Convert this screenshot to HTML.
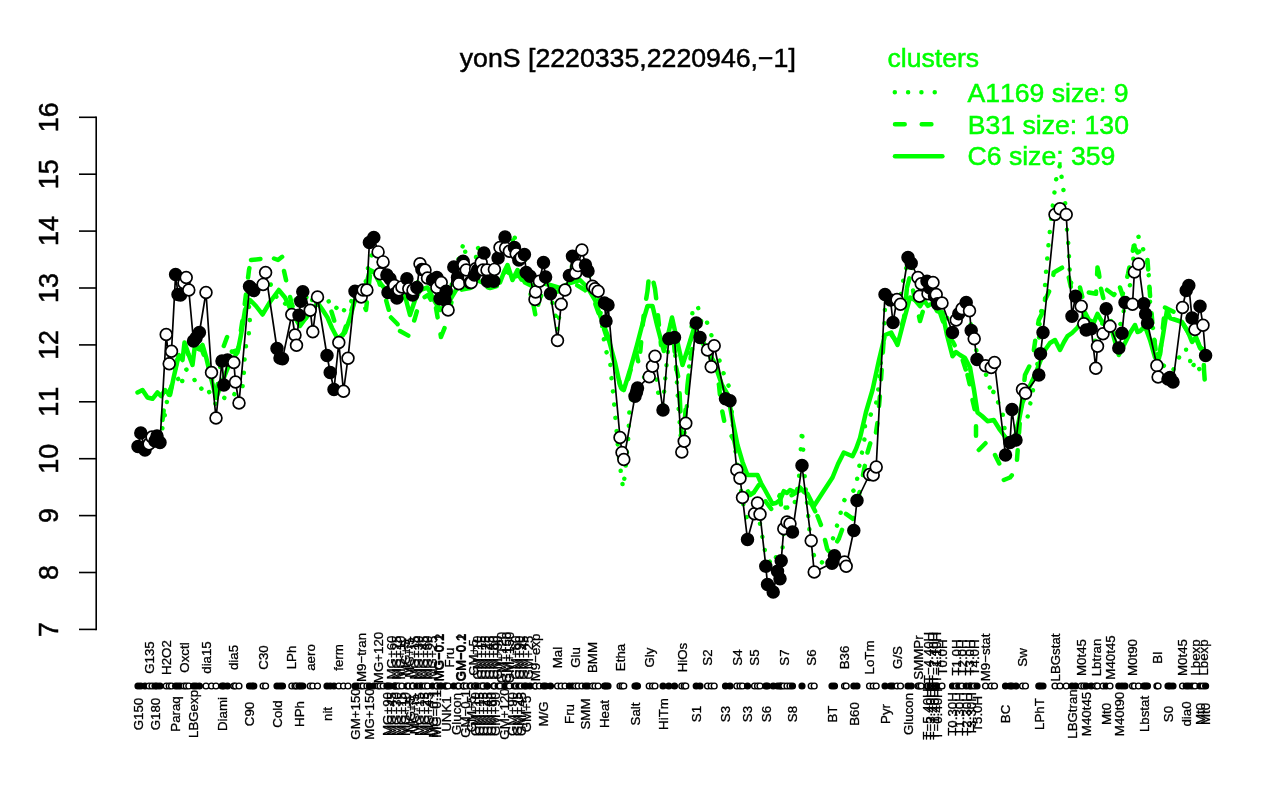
<!DOCTYPE html>
<html lang="en"><head><meta charset="utf-8"><title>yonS expression profile</title>
<style>
html,body{margin:0;padding:0;background:#fff;}
body{width:1280px;height:800px;overflow:hidden;}
svg{display:block;font-kerning:none;font-family:"Liberation Sans",Arial,Helvetica,sans-serif;}
.ax{font-size:26.9px;fill:#000;stroke:#000;stroke-width:0.5;}
.xl{font-size:13.3px;fill:#000;text-anchor:middle;stroke:#000;stroke-width:0.3;}
.lg{font-size:26.6px;fill:#00ff00;stroke:#00ff00;stroke-width:0.5;}
.gl{fill:none;stroke:#00ff00;stroke-width:4.5;stroke-linejoin:round;}
.bl{fill:none;stroke:#000;stroke-width:1.7;stroke-linejoin:round;}
.pf{fill:#000;stroke:#000;stroke-width:1.7;}
.po{fill:#fff;stroke:#000;stroke-width:1.7;}
.mf{fill:#000;stroke:#000;stroke-width:1.4;}
.mo{fill:#fff;stroke:#000;stroke-width:1.4;}
</style></head><body>
<svg width="1280" height="800" viewBox="0 0 1280 800">
<rect x="0" y="0" width="1280" height="800" fill="#fff"/>
<text class="ax" style="font-size:26.7px" x="627.8" y="67.3" text-anchor="middle">yonS [2220335,2220946,−1]</text>
<g stroke="#000" stroke-width="1.6" fill="none" stroke-linecap="butt">
<path d="M96.2 116.5 V630.2"/>
<path d="M79 117.3 H96.2"/>
<path d="M79 174.2 H96.2"/>
<path d="M79 231.1 H96.2"/>
<path d="M79 288.0 H96.2"/>
<path d="M79 344.9 H96.2"/>
<path d="M79 401.8 H96.2"/>
<path d="M79 458.7 H96.2"/>
<path d="M79 515.6 H96.2"/>
<path d="M79 572.5 H96.2"/>
<path d="M79 629.4 H96.2"/>
</g>
<text class="ax" text-anchor="middle" transform="translate(58.3,117.3) rotate(-90)">16</text>
<text class="ax" text-anchor="middle" transform="translate(58.3,174.2) rotate(-90)">15</text>
<text class="ax" text-anchor="middle" transform="translate(58.3,231.1) rotate(-90)">14</text>
<text class="ax" text-anchor="middle" transform="translate(58.3,288.0) rotate(-90)">13</text>
<text class="ax" text-anchor="middle" transform="translate(58.3,344.9) rotate(-90)">12</text>
<text class="ax" text-anchor="middle" transform="translate(58.3,401.8) rotate(-90)">11</text>
<text class="ax" text-anchor="middle" transform="translate(58.3,458.7) rotate(-90)">10</text>
<text class="ax" text-anchor="middle" transform="translate(58.3,515.6) rotate(-90)">9</text>
<text class="ax" text-anchor="middle" transform="translate(58.3,572.5) rotate(-90)">8</text>
<text class="ax" text-anchor="middle" transform="translate(58.3,629.4) rotate(-90)">7</text>
<path class="gl" stroke-linecap="round" stroke-dasharray="0.01 13.3" d="M137.5 448.0 L141.0 440.0 L145.0 452.0 L150.0 445.0 L155.0 442.0 L160.0 440.0 L164.0 420.0 L168.0 395.0 L172.0 385.0 L176.0 380.0 L180.0 378.0 L181.0 385.0 L186.0 369.0 L190.0 375.0 L194.0 379.0 L200.0 390.0 L205.0 385.0 L211.0 395.0 L216.0 405.0 L222.5 402.5 L225.0 396.0 L230.0 392.0 L236.0 395.0 L240.0 392.0 L242.5 387.5 L243.8 373.8 L244.5 360.0 L246.0 346.0 L248.8 333.8 L250.0 322.5 L248.8 307.5 L252.0 295.0 L258.0 288.0 L264.0 280.0 L270.0 283.0 L278.0 300.0 L284.0 305.0 L290.0 298.0 L297.0 300.0 L303.0 295.0 L310.0 300.0 L318.0 296.0 L326.0 297.0 L331.0 305.0 L335.0 310.0 L339.0 304.0 L341.0 309.0 L346.0 311.0 L352.0 300.0 L358.0 295.0 L364.0 292.0 L368.0 268.0 L372.0 254.0 L376.0 255.0 L380.0 265.0 L386.0 278.0 L392.0 288.0 L398.0 290.0 L404.0 285.0 L410.0 292.0 L416.0 290.0 L420.0 270.0 L426.0 272.0 L432.0 280.0 L438.0 285.0 L444.0 295.0 L448.0 305.0 L454.0 272.0 L460.0 255.0 L463.8 242.5 L468.0 270.0 L474.0 272.0 L477.5 246.0 L482.0 262.0 L488.0 272.0 L494.0 272.0 L500.0 250.0 L505.0 240.0 L510.0 260.0 L513.8 232.5 L518.0 255.0 L524.0 258.0 L530.0 275.0 L535.0 295.0 L540.0 282.0 L545.0 272.0 L550.0 292.0 L554.0 310.0 L556.0 317.0 L557.5 330.0 L560.0 310.0 L565.0 292.0 L570.0 272.0 L574.0 260.0 L578.0 266.0 L582.0 252.0 L587.0 268.0 L593.0 287.0 L598.0 292.0 L603.8 338.8 L606.0 351.0 L610.0 360.0 L611.0 373.8 L612.5 387.5 L613.8 400.0 L615.0 413.8 L616.5 430.0 L618.0 448.0 L620.0 466.0 L622.0 480.0 L623.0 488.0 L625.0 474.0 L627.0 452.0 L628.8 432.5 L628.8 418.8 L630.0 405.0 L633.0 392.0 L636.0 385.0 L642.0 380.0 L648.0 372.0 L652.0 365.0 L655.0 360.0 L657.5 390.0 L660.0 400.0 L663.0 405.0 L666.0 370.0 L669.0 340.0 L674.0 335.0 L678.0 400.0 L681.0 440.0 L684.0 438.0 L686.0 420.0 L689.0 370.0 L692.5 311.0 L697.5 305.0 L702.0 325.0 L706.0 320.0 L710.0 330.0 L714.0 345.0 L718.0 355.0 L721.0 366.0 L726.0 380.0 L730.0 388.8 L734.0 440.0 L738.0 470.0 L741.0 490.0 L743.8 507.5 L747.5 520.0 L752.0 515.0 L757.0 505.0 L761.0 530.0 L763.8 543.8 L766.0 557.5 L770.0 562.0 L774.0 565.0 L777.5 551.0 L782.5 548.8 L786.0 501.0 L787.5 508.8 L793.8 507.5 L798.8 481.0 L802.0 429.5 L805.0 481.0 L808.8 522.5 L811.0 548.8 L816.0 560.0 L821.0 563.8 L827.0 555.0 L832.5 540.0 L836.0 528.8 L840.0 515.8 L843.0 502.5 L847.5 495.0 L856.0 488.8 L857.5 476.0 L860.0 462.5 L862.5 450.0 L865.0 436.0 L865.0 424.0 L875.0 407.5 L877.5 397.5 L880.0 370.0 L884.0 335.0 L885.0 307.5 L890.0 300.0 L895.0 310.0 L900.0 300.0 L905.0 270.0 L910.0 262.0 L915.0 275.0 L920.0 285.0 L925.0 283.0 L930.0 290.0 L936.0 295.0 L942.0 305.0 L948.0 320.0 L954.0 325.0 L960.0 312.0 L966.0 305.0 L971.0 325.0 L975.0 345.0 L980.0 365.0 L985.0 372.0 L989.0 382.5 L991.0 396.0 L994.0 391.0 L997.5 401.0 L1002.5 412.5 L1006.0 440.0 L1010.0 445.0 L1014.0 435.0 L1018.0 425.0 L1024.0 420.0 L1027.5 417.5 L1030.0 405.0 L1034.0 385.0 L1038.0 360.0 L1040.0 315.0 L1045.0 300.0 L1045.0 286.0 L1046.0 272.5 L1048.0 250.0 L1050.0 230.0 L1052.0 212.0 L1054.0 196.0 L1056.0 180.0 L1060.0 165.0 L1062.5 183.8 L1064.5 197.0 L1066.0 210.0 L1067.0 230.0 L1069.0 251.0 L1069.0 264.0 L1072.0 290.0 L1076.0 292.0 L1081.0 300.0 L1086.0 318.0 L1091.0 320.0 L1096.0 345.0 L1100.0 335.0 L1105.0 310.0 L1110.0 318.0 L1116.0 335.0 L1122.0 320.0 L1126.0 300.0 L1130.0 285.0 L1133.0 262.0 L1135.0 240.0 L1138.0 235.0 L1141.0 245.0 L1144.0 251.0 L1147.5 265.0 L1149.0 277.5 L1150.0 300.0 L1151.0 322.5 L1154.0 331.0 L1155.0 344.0 L1159.0 357.5 L1163.0 365.0 L1167.5 369.0 L1172.0 372.0 L1178.0 362.0 L1181.0 349.5 L1188.0 349.8 L1190.6 363.0 L1192.0 369.4 L1195.0 361.0 L1200.0 370.4 L1205.0 373.0"/>
<path class="gl" stroke-linecap="round" stroke-dasharray="9.5 17.2" d="M137.5 448.0 L143.0 452.0 L150.0 454.0 L157.0 445.0 L162.5 420.0 M162.5 420.0 L165.0 400.0 L170.0 393.0 L178.0 356.0 L184.0 345.0 L190.0 358.0 L196.0 348.0 L202.0 350.0 L210.0 372.0 L216.0 395.0 L221.0 362.0 L223.8 346.0 M223.8 346.0 L227.5 336.0 L232.0 352.0 L238.0 350.0 L244.0 310.0 L249.0 270.0 L251.0 260.0 M251.0 260.0 L264.0 258.5 L270.0 262.0 L274.0 258.5 M274.0 258.5 L278.0 260.0 L282.5 256.5 L284.0 271.0 M284.0 271.0 L286.5 282.0 L292.0 305.0 L300.0 322.0 L306.0 318.0 L312.0 300.0 L318.0 298.0 L325.0 300.0 L331.0 310.0 L334.0 320.0 L337.0 330.0 L343.0 335.0 L348.0 320.0 L355.0 300.0 L362.0 300.0 L366.0 310.0 L370.0 275.0 L375.0 268.0 L380.0 285.0 L386.0 300.0 L391.0 317.5 M391.0 317.5 L397.5 324.0 L400.0 331.0 M400.0 331.0 L409.0 336.0 L415.0 318.0 L420.0 300.0 L428.0 295.0 L436.0 308.0 M436.0 308.0 L441.0 337.0 M441.0 337.0 L445.0 327.0 L452.0 300.0 L460.0 290.0 L470.0 288.0 L480.0 285.0 L490.0 288.0 L500.0 285.0 L507.0 268.0 L512.0 282.0 L518.0 274.0 L525.0 285.0 L530.0 292.0 L533.5 305.0 M533.5 305.0 L536.0 318.0 L539.0 300.0 L545.0 288.0 L555.0 292.0 L565.0 290.0 L575.0 284.0 L585.0 290.0 L595.0 303.0 L601.0 320.0 L607.0 338.0 L615.0 365.0 L621.0 388.0 L625.0 392.0 L630.0 372.0 L636.0 352.0 M636.0 352.0 L639.0 365.0 L644.0 312.0 L647.5 291.0 M647.5 291.0 L648.8 278.0 L651.0 274.0 L653.0 280.0 L655.0 288.8 M655.0 288.8 L656.5 301.0 L661.0 345.0 L668.0 335.0 L672.0 320.0 L676.0 367.0 M676.0 367.0 L679.0 380.0 L680.0 402.0 M680.0 402.0 L681.5 437.0 L684.0 430.0 L687.5 385.0 M687.5 385.0 L691.0 355.0 L695.0 335.0 L700.0 338.0 L707.0 352.0 L714.0 365.0 L719.0 385.0 M719.0 385.0 L721.0 405.0 L725.0 425.0 L727.5 429.0 L731.0 435.0 L734.0 440.0 M734.0 440.0 L737.5 455.0 L741.0 470.0 L746.0 488.0 L750.0 495.0 L753.8 492.5 M753.8 492.5 L758.8 485.0 L762.0 495.0 L766.0 502.0 L772.0 510.0 L777.0 500.0 L780.0 495.0 M780.0 495.0 L781.0 506.0 L786.0 498.0 L792.0 495.0 L800.0 490.0 L806.0 497.0 L812.0 505.0 L817.5 516.0 M817.5 516.0 L821.0 525.0 L825.0 540.0 M825.0 540.0 L828.0 552.0 L833.0 548.0 L838.8 538.8 M838.8 538.8 L842.0 530.0 L846.0 513.8 M846.0 513.8 L853.0 518.8 L857.0 505.0 L862.0 480.0 L867.5 452.5 M867.5 452.5 L870.5 442.5 L876.0 432.5 M876.0 432.5 L877.5 422.5 L880.0 395.0 L884.0 335.0 L890.0 333.0 L897.0 342.0 L904.0 318.0 L907.0 287.5 M907.0 287.5 L910.0 276.0 L913.0 290.0 L915.0 300.0 L918.0 312.0 L920.0 321.0 M920.0 321.0 L923.0 311.0 L927.0 308.0 L933.0 305.0 L940.0 312.5 M940.0 312.5 L942.5 320.0 L948.0 335.0 L953.0 342.0 L957.0 350.0 L962.0 358.0 L967.5 375.0 M967.5 375.0 L971.0 390.0 L972.5 400.0 M972.5 400.0 L976.0 415.0 L976.0 440.0 L978.8 450.0 M978.8 450.0 L986.2 442.5 L990.0 448.0 L995.0 455.0 M995.0 455.0 L1000.0 465.0 L1003.8 480.0 M1003.8 480.0 L1010.0 477.5 L1016.2 470.0 L1020.0 420.0 L1025.0 375.0 M1025.0 375.0 L1032.5 360.0 L1036.0 335.0 L1038.8 320.0 M1038.8 320.0 L1042.5 312.5 L1045.0 300.0 M1045.0 300.0 L1051.0 287.5 L1053.8 272.5 M1053.8 272.5 L1065.0 266.0 L1068.8 277.5 M1068.8 277.5 L1071.0 287.5 L1075.0 290.0 L1080.0 287.5 M1080.0 287.5 L1082.5 297.5 L1088.8 292.5 M1088.8 292.5 L1096.0 293.8 L1097.5 267.5 M1097.5 267.5 L1098.8 272.5 L1101.0 288.8 M1101.0 288.8 L1103.8 300.0 L1107.0 290.0 M1107.0 290.0 L1113.8 295.0 L1120.0 287.5 M1120.0 287.5 L1122.5 295.0 L1128.0 274.0 L1133.8 246.0 M1133.8 246.0 L1137.5 252.5 L1142.0 250.0 L1147.5 260.0 M1147.5 260.0 L1150.0 295.0 L1153.0 330.0 L1157.0 360.0 L1160.0 355.0 L1165.0 307.5 M1165.0 307.5 L1175.0 312.5 L1182.0 322.0 L1188.0 332.0 L1192.0 342.0 L1196.0 338.0 L1200.0 348.0 L1203.5 352.0 L1204.0 370.0 M1204.0 370.0 L1205.0 384.0"/>
<path class="gl" stroke-linecap="round" d="M137.5 392.5 L142.5 390.0 L147.5 397.5 L152.5 398.8 L157.5 392.5 L161.2 396.2 L165.0 390.0 L170.0 395.0 L174.0 376.0 L178.8 355.0 L182.5 360.0 L184.5 342.5 L188.8 355.0 L192.5 365.0 L195.0 345.0 L199.0 349.0 L202.5 345.0 L206.2 357.5 L211.0 378.0 L216.2 398.0 L221.0 385.0 L225.0 375.0 L230.0 362.5 L237.5 352.5 L241.0 335.0 L245.0 310.0 L250.0 300.0 L256.0 306.0 L262.5 314.5 L270.0 302.0 L278.8 290.0 L285.0 297.5 L290.0 308.0 L295.0 317.5 L300.0 326.0 L306.2 317.5 L312.0 311.0 L317.5 302.5 L322.0 309.0 L327.5 317.5 L332.0 328.0 L337.5 338.5 L341.0 336.0 L345.0 332.5 L350.0 318.0 L355.0 300.0 L362.0 296.0 L366.0 285.0 L370.0 270.0 L374.0 272.0 L378.0 280.0 L382.5 286.0 L388.0 292.0 L394.0 296.0 L400.0 300.0 L405.0 296.0 L410.0 315.0 L415.0 300.0 L420.0 290.0 L427.5 287.5 L434.0 300.0 L440.0 310.0 L445.0 306.0 L450.0 300.0 L456.0 290.0 L462.5 282.5 L470.0 286.0 L476.0 280.0 L482.5 282.5 L490.0 284.0 L500.0 282.5 L504.0 272.0 L507.5 265.0 L512.5 280.0 L517.5 270.0 L525.0 282.5 L532.0 286.0 L540.0 282.5 L550.0 285.0 L560.0 288.0 L570.0 283.0 L580.0 280.0 L588.0 288.0 L595.0 300.0 L601.0 318.0 L607.5 335.0 L615.0 362.5 L620.0 385.0 L623.8 390.0 L630.0 370.0 L637.0 345.0 L644.0 318.0 L647.5 306.0 L652.5 306.0 L657.0 325.0 L663.8 351.0 L668.0 335.0 L672.0 317.5 L677.0 340.0 L682.5 365.0 L688.0 348.0 L693.8 328.8 L700.0 335.0 L707.0 350.0 L714.0 362.0 L722.0 385.0 L728.0 395.0 L732.5 420.0 L737.5 445.0 L742.5 462.0 L747.5 475.0 L757.5 475.0 L761.0 483.0 L765.0 490.0 L772.5 503.8 L776.0 503.0 L780.0 500.0 L783.8 491.2 L787.0 493.0 L790.0 490.0 L795.0 492.5 L800.0 487.5 L804.0 492.0 L807.5 493.8 L813.8 506.2 L823.0 492.0 L832.5 477.5 L838.0 464.0 L843.8 452.5 L852.5 456.2 L856.0 449.0 L860.0 438.0 L866.0 412.0 L872.5 390.0 L879.0 360.0 L885.0 335.0 L891.2 332.5 L897.5 345.0 L904.0 320.0 L910.0 297.5 L915.0 300.0 L920.0 306.2 L923.8 300.0 L928.0 306.0 L932.5 303.0 L937.0 311.0 L942.5 312.5 L947.0 335.0 L952.5 356.2 L956.0 352.0 L960.0 355.0 L965.0 358.0 L970.0 367.5 L974.0 390.0 L977.5 412.5 L982.0 416.0 L987.5 421.2 L993.8 420.0 L1000.0 430.0 L1007.5 440.0 L1012.0 442.0 L1015.0 437.5 L1019.0 420.0 L1022.5 402.5 L1028.0 390.0 L1035.0 375.0 L1040.0 362.0 L1045.0 350.0 L1050.0 343.0 L1055.0 340.0 L1060.0 350.0 L1064.0 342.0 L1067.5 336.2 L1072.0 333.0 L1077.5 327.5 L1081.0 322.0 L1085.0 312.5 L1089.0 320.0 L1093.8 322.5 L1097.5 313.8 L1101.0 320.0 L1105.0 325.0 L1110.0 322.5 L1114.0 338.0 L1118.8 355.0 L1124.0 345.0 L1130.0 333.0 L1135.0 325.0 L1137.5 332.0 L1140.0 331.2 L1145.0 326.2 L1150.0 340.0 L1155.0 357.5 L1159.0 358.0 L1163.0 335.0 L1167.0 310.0 L1170.0 318.0 L1176.0 320.0 L1182.0 322.0 L1188.0 332.0 L1192.0 342.0 L1196.0 337.0 L1200.0 347.0 L1205.0 351.0"/>
<path class="bl" d="M138.0 446.5 L140.8 433.0 L145.0 450.0 L149.0 444.0 L152.0 437.0 L155.0 441.0 L157.0 436.0 L160.0 442.5 L166.2 334.5 L169.2 363.8 L171.5 351.2 L175.6 274.4 L178.0 294.5 L180.5 295.0 L184.0 283.0 L186.2 277.5 L188.8 290.0 L193.5 341.0 L196.0 338.0 L199.4 332.5 L206.0 292.5 L211.5 372.5 L216.0 418.0 L222.0 361.0 L223.8 385.0 L227.5 360.0 L233.8 362.5 L235.5 382.0 L239.0 403.0 L249.5 286.5 L252.0 289.0 L253.8 290.6 L263.1 284.4 L265.6 272.5 L277.0 348.5 L280.0 358.0 L282.5 358.8 L291.8 314.5 L295.0 335.0 L296.5 345.2 L299.0 315.2 L300.8 301.2 L302.8 291.8 L310.2 310.2 L312.8 331.8 L317.5 297.0 L327.0 355.5 L330.2 372.5 L334.0 389.5 L338.8 342.5 L343.5 391.2 L348.0 358.2 L355.0 291.2 L357.5 292.5 L361.2 296.9 L363.1 290.0 L366.9 290.0 L369.4 242.5 L373.8 237.5 L378.1 251.9 L380.0 273.8 L383.1 261.9 L386.9 275.0 L388.0 292.5 L390.0 278.8 L394.4 285.6 L395.0 293.8 L396.9 298.0 L398.8 290.0 L401.9 286.9 L406.9 278.8 L408.8 288.8 L412.5 295.0 L413.0 290.0 L416.9 287.5 L420.0 263.8 L421.9 269.4 L425.0 270.0 L427.5 278.0 L432.5 280.0 L436.9 277.5 L436.9 287.5 L441.2 282.5 L440.0 298.8 L445.0 300.0 L446.2 291.2 L448.1 310.0 L453.8 266.9 L457.5 277.5 L458.8 283.8 L463.1 261.2 L463.8 265.0 L466.2 270.0 L470.0 282.5 L471.2 282.5 L474.4 275.0 L475.6 268.8 L477.5 270.0 L481.2 262.5 L484.0 253.1 L483.0 270.0 L487.0 270.0 L487.5 281.2 L493.8 281.2 L494.4 269.4 L498.1 258.1 L500.0 247.5 L505.6 248.0 L505.0 236.9 L509.4 251.2 L514.4 247.5 L516.2 253.8 L518.8 260.0 L521.2 257.5 L524.4 254.4 L526.2 272.5 L530.0 276.2 L535.0 299.4 L535.6 291.9 L539.4 281.2 L543.5 262.5 L545.6 276.9 L550.5 293.8 L557.5 340.5 L561.2 304.2 L565.0 290.0 L569.4 275.6 L572.5 256.2 L575.6 273.0 L578.1 265.6 L581.9 250.0 L585.5 265.0 L588.0 271.0 L592.5 286.2 L595.0 288.8 L598.1 291.2 L604.5 303.0 L606.0 321.0 L608.0 305.0 L620.0 437.5 L622.0 452.5 L623.8 459.5 L635.0 396.2 L636.5 392.0 L637.5 388.0 L649.2 376.8 L652.5 366.2 L655.0 356.2 L663.0 410.0 L668.8 338.8 L674.5 337.5 L681.8 452.0 L684.2 441.2 L685.8 423.2 L696.2 323.0 L700.0 337.5 L707.5 350.0 L711.2 366.8 L714.2 345.8 L725.5 398.8 L730.0 400.8 L736.8 470.0 L740.0 478.2 L742.5 497.5 L747.5 539.5 L754.5 513.8 L757.5 503.0 L760.0 514.2 L765.8 566.2 L767.5 584.5 L773.2 592.0 L777.5 571.2 L780.0 578.8 L781.2 560.8 L783.8 528.8 L787.0 522.0 L790.0 523.8 L792.5 532.0 L802.0 465.5 L811.2 540.8 L814.2 572.0 L832.0 563.2 L834.5 555.8 L844.5 562.0 L846.2 566.2 L853.8 530.5 L857.0 500.5 L869.5 474.5 L873.2 475.0 L876.2 467.0 L885.0 294.5 L890.5 300.0 L893.0 322.5 L897.0 299.5 L900.5 304.2 L908.0 257.5 L911.2 263.2 L918.0 277.5 L919.5 296.2 L921.2 283.8 L927.0 281.2 L928.0 293.8 L930.0 288.0 L933.0 282.5 L934.5 296.0 L936.2 294.5 L937.5 303.8 L942.0 303.0 L952.5 332.5 L956.2 320.0 L958.8 313.8 L962.0 308.8 L966.2 302.5 L969.5 310.8 L971.2 330.5 L974.2 338.8 L977.0 359.5 L985.5 365.8 L991.2 367.5 L994.5 362.5 L1005.5 455.0 L1010.0 442.5 L1012.0 409.5 L1016.0 440.0 L1022.5 389.5 L1025.5 393.2 L1038.8 375.0 L1040.5 353.8 L1043.0 332.5 L1055.0 214.5 L1060.0 208.8 L1066.2 214.5 L1072.0 316.2 L1075.5 296.2 L1081.2 306.2 L1083.8 323.8 L1086.2 330.0 L1091.2 328.8 L1095.8 368.2 L1097.5 346.2 L1103.0 333.8 L1106.2 308.8 L1110.0 326.2 L1118.8 348.0 L1122.0 333.2 L1125.0 302.5 L1132.5 304.2 L1134.4 272.0 L1138.5 264.0 L1143.8 303.8 L1145.6 314.0 L1147.5 323.0 L1156.9 365.6 L1158.1 377.0 L1168.0 379.0 L1170.0 377.5 L1173.0 382.0 L1182.5 307.5 L1186.2 290.5 L1188.8 285.6 L1192.0 318.0 L1195.0 329.5 L1200.0 306.2 L1203.0 325.2 L1205.6 355.6"/>
<circle class="pf" cx="138.0" cy="446.5" r="5.9"/>
<circle class="pf" cx="140.8" cy="433.0" r="5.9"/>
<circle class="pf" cx="145.0" cy="450.0" r="5.9"/>
<circle class="po" cx="149.0" cy="444.0" r="5.9"/>
<circle class="po" cx="152.0" cy="437.0" r="5.9"/>
<circle class="pf" cx="155.0" cy="441.0" r="5.9"/>
<circle class="pf" cx="157.0" cy="436.0" r="5.9"/>
<circle class="pf" cx="160.0" cy="442.5" r="5.9"/>
<circle class="po" cx="166.2" cy="334.5" r="5.9"/>
<circle class="po" cx="169.2" cy="363.8" r="5.9"/>
<circle class="po" cx="171.5" cy="351.2" r="5.9"/>
<circle class="pf" cx="175.6" cy="274.4" r="5.9"/>
<circle class="pf" cx="178.0" cy="294.5" r="5.9"/>
<circle class="pf" cx="180.5" cy="295.0" r="5.9"/>
<circle class="po" cx="184.0" cy="283.0" r="5.9"/>
<circle class="po" cx="186.2" cy="277.5" r="5.9"/>
<circle class="po" cx="188.8" cy="290.0" r="5.9"/>
<circle class="pf" cx="193.5" cy="341.0" r="5.9"/>
<circle class="pf" cx="196.0" cy="338.0" r="5.9"/>
<circle class="pf" cx="199.4" cy="332.5" r="5.9"/>
<circle class="po" cx="206.0" cy="292.5" r="5.9"/>
<circle class="po" cx="211.5" cy="372.5" r="5.9"/>
<circle class="po" cx="216.0" cy="418.0" r="5.9"/>
<circle class="pf" cx="222.0" cy="361.0" r="5.9"/>
<circle class="pf" cx="223.8" cy="385.0" r="5.9"/>
<circle class="pf" cx="227.5" cy="360.0" r="5.9"/>
<circle class="po" cx="233.8" cy="362.5" r="5.9"/>
<circle class="po" cx="235.5" cy="382.0" r="5.9"/>
<circle class="po" cx="239.0" cy="403.0" r="5.9"/>
<circle class="pf" cx="249.5" cy="286.5" r="5.9"/>
<circle class="pf" cx="252.0" cy="289.0" r="5.9"/>
<circle class="pf" cx="253.8" cy="290.6" r="5.9"/>
<circle class="po" cx="263.1" cy="284.4" r="5.9"/>
<circle class="po" cx="265.6" cy="272.5" r="5.9"/>
<circle class="pf" cx="277.0" cy="348.5" r="5.9"/>
<circle class="pf" cx="280.0" cy="358.0" r="5.9"/>
<circle class="pf" cx="282.5" cy="358.8" r="5.9"/>
<circle class="po" cx="291.8" cy="314.5" r="5.9"/>
<circle class="po" cx="295.0" cy="335.0" r="5.9"/>
<circle class="po" cx="296.5" cy="345.2" r="5.9"/>
<circle class="pf" cx="299.0" cy="315.2" r="5.9"/>
<circle class="pf" cx="300.8" cy="301.2" r="5.9"/>
<circle class="pf" cx="302.8" cy="291.8" r="5.9"/>
<circle class="po" cx="310.2" cy="310.2" r="5.9"/>
<circle class="po" cx="312.8" cy="331.8" r="5.9"/>
<circle class="po" cx="317.5" cy="297.0" r="5.9"/>
<circle class="pf" cx="327.0" cy="355.5" r="5.9"/>
<circle class="pf" cx="330.2" cy="372.5" r="5.9"/>
<circle class="pf" cx="334.0" cy="389.5" r="5.9"/>
<circle class="po" cx="338.8" cy="342.5" r="5.9"/>
<circle class="po" cx="343.5" cy="391.2" r="5.9"/>
<circle class="po" cx="348.0" cy="358.2" r="5.9"/>
<circle class="pf" cx="355.0" cy="291.2" r="5.9"/>
<circle class="pf" cx="357.5" cy="292.5" r="5.9"/>
<circle class="po" cx="361.2" cy="296.9" r="5.9"/>
<circle class="po" cx="363.1" cy="290.0" r="5.9"/>
<circle class="po" cx="366.9" cy="290.0" r="5.9"/>
<circle class="pf" cx="369.4" cy="242.5" r="5.9"/>
<circle class="pf" cx="373.8" cy="237.5" r="5.9"/>
<circle class="po" cx="378.1" cy="251.9" r="5.9"/>
<circle class="po" cx="380.0" cy="273.8" r="5.9"/>
<circle class="po" cx="383.1" cy="261.9" r="5.9"/>
<circle class="pf" cx="386.9" cy="275.0" r="5.9"/>
<circle class="pf" cx="388.0" cy="292.5" r="5.9"/>
<circle class="pf" cx="390.0" cy="278.8" r="5.9"/>
<circle class="po" cx="394.4" cy="285.6" r="5.9"/>
<circle class="pf" cx="395.0" cy="293.8" r="5.9"/>
<circle class="pf" cx="396.9" cy="298.0" r="5.9"/>
<circle class="po" cx="398.8" cy="290.0" r="5.9"/>
<circle class="po" cx="401.9" cy="286.9" r="5.9"/>
<circle class="pf" cx="406.9" cy="278.8" r="5.9"/>
<circle class="po" cx="408.8" cy="288.8" r="5.9"/>
<circle class="pf" cx="412.5" cy="295.0" r="5.9"/>
<circle class="po" cx="413.0" cy="290.0" r="5.9"/>
<circle class="pf" cx="416.9" cy="287.5" r="5.9"/>
<circle class="po" cx="420.0" cy="263.8" r="5.9"/>
<circle class="pf" cx="421.9" cy="269.4" r="5.9"/>
<circle class="po" cx="425.0" cy="270.0" r="5.9"/>
<circle class="po" cx="427.5" cy="278.0" r="5.9"/>
<circle class="pf" cx="432.5" cy="280.0" r="5.9"/>
<circle class="pf" cx="436.9" cy="277.5" r="5.9"/>
<circle class="po" cx="436.9" cy="287.5" r="5.9"/>
<circle class="po" cx="441.2" cy="282.5" r="5.9"/>
<circle class="pf" cx="440.0" cy="298.8" r="5.9"/>
<circle class="pf" cx="445.0" cy="300.0" r="5.9"/>
<circle class="pf" cx="446.2" cy="291.2" r="5.9"/>
<circle class="po" cx="448.1" cy="310.0" r="5.9"/>
<circle class="pf" cx="453.8" cy="266.9" r="5.9"/>
<circle class="pf" cx="457.5" cy="277.5" r="5.9"/>
<circle class="po" cx="458.8" cy="283.8" r="5.9"/>
<circle class="pf" cx="463.1" cy="261.2" r="5.9"/>
<circle class="po" cx="463.8" cy="265.0" r="5.9"/>
<circle class="po" cx="466.2" cy="270.0" r="5.9"/>
<circle class="pf" cx="470.0" cy="282.5" r="5.9"/>
<circle class="po" cx="471.2" cy="282.5" r="5.9"/>
<circle class="pf" cx="474.4" cy="275.0" r="5.9"/>
<circle class="po" cx="475.6" cy="268.8" r="5.9"/>
<circle class="pf" cx="477.5" cy="270.0" r="5.9"/>
<circle class="po" cx="481.2" cy="262.5" r="5.9"/>
<circle class="pf" cx="484.0" cy="253.1" r="5.9"/>
<circle class="po" cx="483.0" cy="270.0" r="5.9"/>
<circle class="po" cx="487.0" cy="270.0" r="5.9"/>
<circle class="pf" cx="487.5" cy="281.2" r="5.9"/>
<circle class="pf" cx="493.8" cy="281.2" r="5.9"/>
<circle class="po" cx="494.4" cy="269.4" r="5.9"/>
<circle class="pf" cx="498.1" cy="258.1" r="5.9"/>
<circle class="po" cx="500.0" cy="247.5" r="5.9"/>
<circle class="po" cx="505.6" cy="248.0" r="5.9"/>
<circle class="pf" cx="505.0" cy="236.9" r="5.9"/>
<circle class="po" cx="509.4" cy="251.2" r="5.9"/>
<circle class="pf" cx="514.4" cy="247.5" r="5.9"/>
<circle class="po" cx="516.2" cy="253.8" r="5.9"/>
<circle class="pf" cx="518.8" cy="260.0" r="5.9"/>
<circle class="po" cx="521.2" cy="257.5" r="5.9"/>
<circle class="pf" cx="524.4" cy="254.4" r="5.9"/>
<circle class="pf" cx="526.2" cy="272.5" r="5.9"/>
<circle class="pf" cx="530.0" cy="276.2" r="5.9"/>
<circle class="po" cx="535.0" cy="299.4" r="5.9"/>
<circle class="po" cx="535.6" cy="291.9" r="5.9"/>
<circle class="po" cx="539.4" cy="281.2" r="5.9"/>
<circle class="pf" cx="543.5" cy="262.5" r="5.9"/>
<circle class="pf" cx="545.6" cy="276.9" r="5.9"/>
<circle class="pf" cx="550.5" cy="293.8" r="5.9"/>
<circle class="po" cx="557.5" cy="340.5" r="5.9"/>
<circle class="po" cx="561.2" cy="304.2" r="5.9"/>
<circle class="po" cx="565.0" cy="290.0" r="5.9"/>
<circle class="pf" cx="569.4" cy="275.6" r="5.9"/>
<circle class="pf" cx="572.5" cy="256.2" r="5.9"/>
<circle class="po" cx="575.6" cy="273.0" r="5.9"/>
<circle class="po" cx="578.1" cy="265.6" r="5.9"/>
<circle class="po" cx="581.9" cy="250.0" r="5.9"/>
<circle class="pf" cx="585.5" cy="265.0" r="5.9"/>
<circle class="pf" cx="588.0" cy="271.0" r="5.9"/>
<circle class="po" cx="592.5" cy="286.2" r="5.9"/>
<circle class="po" cx="595.0" cy="288.8" r="5.9"/>
<circle class="po" cx="598.1" cy="291.2" r="5.9"/>
<circle class="pf" cx="604.5" cy="303.0" r="5.9"/>
<circle class="pf" cx="606.0" cy="321.0" r="5.9"/>
<circle class="pf" cx="608.0" cy="305.0" r="5.9"/>
<circle class="po" cx="620.0" cy="437.5" r="5.9"/>
<circle class="po" cx="622.0" cy="452.5" r="5.9"/>
<circle class="po" cx="623.8" cy="459.5" r="5.9"/>
<circle class="pf" cx="635.0" cy="396.2" r="5.9"/>
<circle class="pf" cx="636.5" cy="392.0" r="5.9"/>
<circle class="pf" cx="637.5" cy="388.0" r="5.9"/>
<circle class="po" cx="649.2" cy="376.8" r="5.9"/>
<circle class="po" cx="652.5" cy="366.2" r="5.9"/>
<circle class="po" cx="655.0" cy="356.2" r="5.9"/>
<circle class="pf" cx="663.0" cy="410.0" r="5.9"/>
<circle class="pf" cx="668.8" cy="338.8" r="5.9"/>
<circle class="pf" cx="674.5" cy="337.5" r="5.9"/>
<circle class="po" cx="681.8" cy="452.0" r="5.9"/>
<circle class="po" cx="684.2" cy="441.2" r="5.9"/>
<circle class="po" cx="685.8" cy="423.2" r="5.9"/>
<circle class="pf" cx="696.2" cy="323.0" r="5.9"/>
<circle class="pf" cx="700.0" cy="337.5" r="5.9"/>
<circle class="po" cx="707.5" cy="350.0" r="5.9"/>
<circle class="po" cx="711.2" cy="366.8" r="5.9"/>
<circle class="po" cx="714.2" cy="345.8" r="5.9"/>
<circle class="pf" cx="725.5" cy="398.8" r="5.9"/>
<circle class="pf" cx="730.0" cy="400.8" r="5.9"/>
<circle class="po" cx="736.8" cy="470.0" r="5.9"/>
<circle class="po" cx="740.0" cy="478.2" r="5.9"/>
<circle class="po" cx="742.5" cy="497.5" r="5.9"/>
<circle class="pf" cx="747.5" cy="539.5" r="5.9"/>
<circle class="po" cx="754.5" cy="513.8" r="5.9"/>
<circle class="po" cx="757.5" cy="503.0" r="5.9"/>
<circle class="po" cx="760.0" cy="514.2" r="5.9"/>
<circle class="pf" cx="765.8" cy="566.2" r="5.9"/>
<circle class="pf" cx="767.5" cy="584.5" r="5.9"/>
<circle class="pf" cx="773.2" cy="592.0" r="5.9"/>
<circle class="pf" cx="777.5" cy="571.2" r="5.9"/>
<circle class="pf" cx="780.0" cy="578.8" r="5.9"/>
<circle class="pf" cx="781.2" cy="560.8" r="5.9"/>
<circle class="po" cx="783.8" cy="528.8" r="5.9"/>
<circle class="po" cx="787.0" cy="522.0" r="5.9"/>
<circle class="po" cx="790.0" cy="523.8" r="5.9"/>
<circle class="pf" cx="792.5" cy="532.0" r="5.9"/>
<circle class="pf" cx="802.0" cy="465.5" r="5.9"/>
<circle class="po" cx="811.2" cy="540.8" r="5.9"/>
<circle class="po" cx="814.2" cy="572.0" r="5.9"/>
<circle class="pf" cx="832.0" cy="563.2" r="5.9"/>
<circle class="pf" cx="834.5" cy="555.8" r="5.9"/>
<circle class="po" cx="844.5" cy="562.0" r="5.9"/>
<circle class="po" cx="846.2" cy="566.2" r="5.9"/>
<circle class="pf" cx="853.8" cy="530.5" r="5.9"/>
<circle class="pf" cx="857.0" cy="500.5" r="5.9"/>
<circle class="po" cx="869.5" cy="474.5" r="5.9"/>
<circle class="po" cx="873.2" cy="475.0" r="5.9"/>
<circle class="po" cx="876.2" cy="467.0" r="5.9"/>
<circle class="pf" cx="885.0" cy="294.5" r="5.9"/>
<circle class="pf" cx="890.5" cy="300.0" r="5.9"/>
<circle class="pf" cx="893.0" cy="322.5" r="5.9"/>
<circle class="po" cx="897.0" cy="299.5" r="5.9"/>
<circle class="po" cx="900.5" cy="304.2" r="5.9"/>
<circle class="pf" cx="908.0" cy="257.5" r="5.9"/>
<circle class="pf" cx="911.2" cy="263.2" r="5.9"/>
<circle class="po" cx="918.0" cy="277.5" r="5.9"/>
<circle class="po" cx="919.5" cy="296.2" r="5.9"/>
<circle class="po" cx="921.2" cy="283.8" r="5.9"/>
<circle class="pf" cx="927.0" cy="281.2" r="5.9"/>
<circle class="po" cx="928.0" cy="293.8" r="5.9"/>
<circle class="pf" cx="930.0" cy="288.0" r="5.9"/>
<circle class="po" cx="933.0" cy="282.5" r="5.9"/>
<circle class="pf" cx="934.5" cy="296.0" r="5.9"/>
<circle class="po" cx="936.2" cy="294.5" r="5.9"/>
<circle class="pf" cx="937.5" cy="303.8" r="5.9"/>
<circle class="po" cx="942.0" cy="303.0" r="5.9"/>
<circle class="pf" cx="952.5" cy="332.5" r="5.9"/>
<circle class="po" cx="956.2" cy="320.0" r="5.9"/>
<circle class="pf" cx="958.8" cy="313.8" r="5.9"/>
<circle class="po" cx="962.0" cy="308.8" r="5.9"/>
<circle class="pf" cx="966.2" cy="302.5" r="5.9"/>
<circle class="po" cx="969.5" cy="310.8" r="5.9"/>
<circle class="pf" cx="971.2" cy="330.5" r="5.9"/>
<circle class="po" cx="974.2" cy="338.8" r="5.9"/>
<circle class="pf" cx="977.0" cy="359.5" r="5.9"/>
<circle class="po" cx="985.5" cy="365.8" r="5.9"/>
<circle class="po" cx="991.2" cy="367.5" r="5.9"/>
<circle class="po" cx="994.5" cy="362.5" r="5.9"/>
<circle class="pf" cx="1005.5" cy="455.0" r="5.9"/>
<circle class="pf" cx="1010.0" cy="442.5" r="5.9"/>
<circle class="pf" cx="1012.0" cy="409.5" r="5.9"/>
<circle class="pf" cx="1016.0" cy="440.0" r="5.9"/>
<circle class="po" cx="1022.5" cy="389.5" r="5.9"/>
<circle class="po" cx="1025.5" cy="393.2" r="5.9"/>
<circle class="pf" cx="1038.8" cy="375.0" r="5.9"/>
<circle class="pf" cx="1040.5" cy="353.8" r="5.9"/>
<circle class="pf" cx="1043.0" cy="332.5" r="5.9"/>
<circle class="po" cx="1055.0" cy="214.5" r="5.9"/>
<circle class="po" cx="1060.0" cy="208.8" r="5.9"/>
<circle class="po" cx="1066.2" cy="214.5" r="5.9"/>
<circle class="pf" cx="1072.0" cy="316.2" r="5.9"/>
<circle class="pf" cx="1075.5" cy="296.2" r="5.9"/>
<circle class="po" cx="1081.2" cy="306.2" r="5.9"/>
<circle class="po" cx="1083.8" cy="323.8" r="5.9"/>
<circle class="pf" cx="1086.2" cy="330.0" r="5.9"/>
<circle class="pf" cx="1091.2" cy="328.8" r="5.9"/>
<circle class="po" cx="1095.8" cy="368.2" r="5.9"/>
<circle class="po" cx="1097.5" cy="346.2" r="5.9"/>
<circle class="po" cx="1103.0" cy="333.8" r="5.9"/>
<circle class="pf" cx="1106.2" cy="308.8" r="5.9"/>
<circle class="po" cx="1110.0" cy="326.2" r="5.9"/>
<circle class="pf" cx="1118.8" cy="348.0" r="5.9"/>
<circle class="pf" cx="1122.0" cy="333.2" r="5.9"/>
<circle class="pf" cx="1125.0" cy="302.5" r="5.9"/>
<circle class="po" cx="1132.5" cy="304.2" r="5.9"/>
<circle class="po" cx="1134.4" cy="272.0" r="5.9"/>
<circle class="po" cx="1138.5" cy="264.0" r="5.9"/>
<circle class="pf" cx="1143.8" cy="303.8" r="5.9"/>
<circle class="pf" cx="1145.6" cy="314.0" r="5.9"/>
<circle class="pf" cx="1147.5" cy="323.0" r="5.9"/>
<circle class="po" cx="1156.9" cy="365.6" r="5.9"/>
<circle class="po" cx="1158.1" cy="377.0" r="5.9"/>
<circle class="pf" cx="1168.0" cy="379.0" r="5.9"/>
<circle class="pf" cx="1170.0" cy="377.5" r="5.9"/>
<circle class="pf" cx="1173.0" cy="382.0" r="5.9"/>
<circle class="po" cx="1182.5" cy="307.5" r="5.9"/>
<circle class="pf" cx="1186.2" cy="290.5" r="5.9"/>
<circle class="pf" cx="1188.8" cy="285.6" r="5.9"/>
<circle class="pf" cx="1192.0" cy="318.0" r="5.9"/>
<circle class="po" cx="1195.0" cy="329.5" r="5.9"/>
<circle class="pf" cx="1200.0" cy="306.2" r="5.9"/>
<circle class="po" cx="1203.0" cy="325.2" r="5.9"/>
<circle class="pf" cx="1205.6" cy="355.6" r="5.9"/>
<circle class="mf" cx="138.0" cy="686" r="2.9"/>
<circle class="mf" cx="140.8" cy="686" r="2.9"/>
<circle class="mf" cx="145.0" cy="686" r="2.9"/>
<circle class="mo" cx="149.0" cy="686" r="2.9"/>
<circle class="mo" cx="152.0" cy="686" r="2.9"/>
<circle class="mf" cx="155.0" cy="686" r="2.9"/>
<circle class="mf" cx="157.0" cy="686" r="2.9"/>
<circle class="mf" cx="160.0" cy="686" r="2.9"/>
<circle class="mo" cx="166.2" cy="686" r="2.9"/>
<circle class="mo" cx="169.2" cy="686" r="2.9"/>
<circle class="mo" cx="171.5" cy="686" r="2.9"/>
<circle class="mf" cx="175.6" cy="686" r="2.9"/>
<circle class="mf" cx="178.0" cy="686" r="2.9"/>
<circle class="mf" cx="180.5" cy="686" r="2.9"/>
<circle class="mo" cx="184.0" cy="686" r="2.9"/>
<circle class="mo" cx="186.2" cy="686" r="2.9"/>
<circle class="mo" cx="188.8" cy="686" r="2.9"/>
<circle class="mf" cx="193.5" cy="686" r="2.9"/>
<circle class="mf" cx="196.0" cy="686" r="2.9"/>
<circle class="mf" cx="199.4" cy="686" r="2.9"/>
<circle class="mo" cx="206.0" cy="686" r="2.9"/>
<circle class="mo" cx="211.5" cy="686" r="2.9"/>
<circle class="mo" cx="216.0" cy="686" r="2.9"/>
<circle class="mf" cx="222.0" cy="686" r="2.9"/>
<circle class="mf" cx="223.8" cy="686" r="2.9"/>
<circle class="mf" cx="227.5" cy="686" r="2.9"/>
<circle class="mo" cx="233.8" cy="686" r="2.9"/>
<circle class="mo" cx="235.5" cy="686" r="2.9"/>
<circle class="mo" cx="239.0" cy="686" r="2.9"/>
<circle class="mf" cx="249.5" cy="686" r="2.9"/>
<circle class="mf" cx="252.0" cy="686" r="2.9"/>
<circle class="mf" cx="253.8" cy="686" r="2.9"/>
<circle class="mo" cx="263.1" cy="686" r="2.9"/>
<circle class="mo" cx="265.6" cy="686" r="2.9"/>
<circle class="mf" cx="277.0" cy="686" r="2.9"/>
<circle class="mf" cx="280.0" cy="686" r="2.9"/>
<circle class="mf" cx="282.5" cy="686" r="2.9"/>
<circle class="mo" cx="291.8" cy="686" r="2.9"/>
<circle class="mo" cx="295.0" cy="686" r="2.9"/>
<circle class="mo" cx="296.5" cy="686" r="2.9"/>
<circle class="mf" cx="299.0" cy="686" r="2.9"/>
<circle class="mf" cx="300.8" cy="686" r="2.9"/>
<circle class="mf" cx="302.8" cy="686" r="2.9"/>
<circle class="mo" cx="310.2" cy="686" r="2.9"/>
<circle class="mo" cx="312.8" cy="686" r="2.9"/>
<circle class="mo" cx="317.5" cy="686" r="2.9"/>
<circle class="mf" cx="327.0" cy="686" r="2.9"/>
<circle class="mf" cx="330.2" cy="686" r="2.9"/>
<circle class="mf" cx="334.0" cy="686" r="2.9"/>
<circle class="mo" cx="338.8" cy="686" r="2.9"/>
<circle class="mo" cx="343.5" cy="686" r="2.9"/>
<circle class="mo" cx="348.0" cy="686" r="2.9"/>
<circle class="mf" cx="355.0" cy="686" r="2.9"/>
<circle class="mf" cx="357.5" cy="686" r="2.9"/>
<circle class="mo" cx="361.2" cy="686" r="2.9"/>
<circle class="mo" cx="363.1" cy="686" r="2.9"/>
<circle class="mo" cx="366.9" cy="686" r="2.9"/>
<circle class="mf" cx="369.4" cy="686" r="2.9"/>
<circle class="mf" cx="373.8" cy="686" r="2.9"/>
<circle class="mo" cx="378.1" cy="686" r="2.9"/>
<circle class="mo" cx="380.0" cy="686" r="2.9"/>
<circle class="mo" cx="383.1" cy="686" r="2.9"/>
<circle class="mf" cx="386.9" cy="686" r="2.9"/>
<circle class="mf" cx="388.0" cy="686" r="2.9"/>
<circle class="mf" cx="390.0" cy="686" r="2.9"/>
<circle class="mo" cx="394.4" cy="686" r="2.9"/>
<circle class="mf" cx="395.0" cy="686" r="2.9"/>
<circle class="mf" cx="396.9" cy="686" r="2.9"/>
<circle class="mo" cx="398.8" cy="686" r="2.9"/>
<circle class="mo" cx="401.9" cy="686" r="2.9"/>
<circle class="mf" cx="406.9" cy="686" r="2.9"/>
<circle class="mo" cx="408.8" cy="686" r="2.9"/>
<circle class="mf" cx="412.5" cy="686" r="2.9"/>
<circle class="mo" cx="413.0" cy="686" r="2.9"/>
<circle class="mf" cx="416.9" cy="686" r="2.9"/>
<circle class="mo" cx="420.0" cy="686" r="2.9"/>
<circle class="mf" cx="421.9" cy="686" r="2.9"/>
<circle class="mo" cx="425.0" cy="686" r="2.9"/>
<circle class="mo" cx="427.5" cy="686" r="2.9"/>
<circle class="mf" cx="432.5" cy="686" r="2.9"/>
<circle class="mf" cx="436.9" cy="686" r="2.9"/>
<circle class="mo" cx="436.9" cy="686" r="2.9"/>
<circle class="mo" cx="441.2" cy="686" r="2.9"/>
<circle class="mf" cx="440.0" cy="686" r="2.9"/>
<circle class="mf" cx="445.0" cy="686" r="2.9"/>
<circle class="mf" cx="446.2" cy="686" r="2.9"/>
<circle class="mo" cx="448.1" cy="686" r="2.9"/>
<circle class="mf" cx="453.8" cy="686" r="2.9"/>
<circle class="mf" cx="457.5" cy="686" r="2.9"/>
<circle class="mo" cx="458.8" cy="686" r="2.9"/>
<circle class="mf" cx="463.1" cy="686" r="2.9"/>
<circle class="mo" cx="463.8" cy="686" r="2.9"/>
<circle class="mo" cx="466.2" cy="686" r="2.9"/>
<circle class="mf" cx="470.0" cy="686" r="2.9"/>
<circle class="mo" cx="471.2" cy="686" r="2.9"/>
<circle class="mf" cx="474.4" cy="686" r="2.9"/>
<circle class="mo" cx="475.6" cy="686" r="2.9"/>
<circle class="mf" cx="477.5" cy="686" r="2.9"/>
<circle class="mo" cx="481.2" cy="686" r="2.9"/>
<circle class="mf" cx="484.0" cy="686" r="2.9"/>
<circle class="mo" cx="483.0" cy="686" r="2.9"/>
<circle class="mo" cx="487.0" cy="686" r="2.9"/>
<circle class="mf" cx="487.5" cy="686" r="2.9"/>
<circle class="mf" cx="493.8" cy="686" r="2.9"/>
<circle class="mo" cx="494.4" cy="686" r="2.9"/>
<circle class="mf" cx="498.1" cy="686" r="2.9"/>
<circle class="mo" cx="500.0" cy="686" r="2.9"/>
<circle class="mo" cx="505.6" cy="686" r="2.9"/>
<circle class="mf" cx="505.0" cy="686" r="2.9"/>
<circle class="mo" cx="509.4" cy="686" r="2.9"/>
<circle class="mf" cx="514.4" cy="686" r="2.9"/>
<circle class="mo" cx="516.2" cy="686" r="2.9"/>
<circle class="mf" cx="518.8" cy="686" r="2.9"/>
<circle class="mo" cx="521.2" cy="686" r="2.9"/>
<circle class="mf" cx="524.4" cy="686" r="2.9"/>
<circle class="mf" cx="526.2" cy="686" r="2.9"/>
<circle class="mf" cx="530.0" cy="686" r="2.9"/>
<circle class="mo" cx="535.0" cy="686" r="2.9"/>
<circle class="mo" cx="535.6" cy="686" r="2.9"/>
<circle class="mo" cx="539.4" cy="686" r="2.9"/>
<circle class="mf" cx="543.5" cy="686" r="2.9"/>
<circle class="mf" cx="545.6" cy="686" r="2.9"/>
<circle class="mf" cx="550.5" cy="686" r="2.9"/>
<circle class="mo" cx="557.5" cy="686" r="2.9"/>
<circle class="mo" cx="561.2" cy="686" r="2.9"/>
<circle class="mo" cx="565.0" cy="686" r="2.9"/>
<circle class="mf" cx="569.4" cy="686" r="2.9"/>
<circle class="mf" cx="572.5" cy="686" r="2.9"/>
<circle class="mo" cx="575.6" cy="686" r="2.9"/>
<circle class="mo" cx="578.1" cy="686" r="2.9"/>
<circle class="mo" cx="581.9" cy="686" r="2.9"/>
<circle class="mf" cx="585.5" cy="686" r="2.9"/>
<circle class="mf" cx="588.0" cy="686" r="2.9"/>
<circle class="mo" cx="592.5" cy="686" r="2.9"/>
<circle class="mo" cx="595.0" cy="686" r="2.9"/>
<circle class="mo" cx="598.1" cy="686" r="2.9"/>
<circle class="mf" cx="604.5" cy="686" r="2.9"/>
<circle class="mf" cx="606.0" cy="686" r="2.9"/>
<circle class="mf" cx="608.0" cy="686" r="2.9"/>
<circle class="mo" cx="620.0" cy="686" r="2.9"/>
<circle class="mo" cx="622.0" cy="686" r="2.9"/>
<circle class="mo" cx="623.8" cy="686" r="2.9"/>
<circle class="mf" cx="635.0" cy="686" r="2.9"/>
<circle class="mf" cx="636.5" cy="686" r="2.9"/>
<circle class="mf" cx="637.5" cy="686" r="2.9"/>
<circle class="mo" cx="649.2" cy="686" r="2.9"/>
<circle class="mo" cx="652.5" cy="686" r="2.9"/>
<circle class="mo" cx="655.0" cy="686" r="2.9"/>
<circle class="mf" cx="663.0" cy="686" r="2.9"/>
<circle class="mf" cx="668.8" cy="686" r="2.9"/>
<circle class="mf" cx="674.5" cy="686" r="2.9"/>
<circle class="mo" cx="681.8" cy="686" r="2.9"/>
<circle class="mo" cx="684.2" cy="686" r="2.9"/>
<circle class="mo" cx="685.8" cy="686" r="2.9"/>
<circle class="mf" cx="696.2" cy="686" r="2.9"/>
<circle class="mf" cx="700.0" cy="686" r="2.9"/>
<circle class="mo" cx="707.5" cy="686" r="2.9"/>
<circle class="mo" cx="711.2" cy="686" r="2.9"/>
<circle class="mo" cx="714.2" cy="686" r="2.9"/>
<circle class="mf" cx="725.5" cy="686" r="2.9"/>
<circle class="mf" cx="730.0" cy="686" r="2.9"/>
<circle class="mo" cx="736.8" cy="686" r="2.9"/>
<circle class="mo" cx="740.0" cy="686" r="2.9"/>
<circle class="mo" cx="742.5" cy="686" r="2.9"/>
<circle class="mf" cx="747.5" cy="686" r="2.9"/>
<circle class="mo" cx="754.5" cy="686" r="2.9"/>
<circle class="mo" cx="757.5" cy="686" r="2.9"/>
<circle class="mo" cx="760.0" cy="686" r="2.9"/>
<circle class="mf" cx="765.8" cy="686" r="2.9"/>
<circle class="mf" cx="767.5" cy="686" r="2.9"/>
<circle class="mf" cx="773.2" cy="686" r="2.9"/>
<circle class="mf" cx="777.5" cy="686" r="2.9"/>
<circle class="mf" cx="780.0" cy="686" r="2.9"/>
<circle class="mf" cx="781.2" cy="686" r="2.9"/>
<circle class="mo" cx="783.8" cy="686" r="2.9"/>
<circle class="mo" cx="787.0" cy="686" r="2.9"/>
<circle class="mo" cx="790.0" cy="686" r="2.9"/>
<circle class="mf" cx="792.5" cy="686" r="2.9"/>
<circle class="mf" cx="802.0" cy="686" r="2.9"/>
<circle class="mo" cx="811.2" cy="686" r="2.9"/>
<circle class="mo" cx="814.2" cy="686" r="2.9"/>
<circle class="mf" cx="832.0" cy="686" r="2.9"/>
<circle class="mf" cx="834.5" cy="686" r="2.9"/>
<circle class="mo" cx="844.5" cy="686" r="2.9"/>
<circle class="mo" cx="846.2" cy="686" r="2.9"/>
<circle class="mf" cx="853.8" cy="686" r="2.9"/>
<circle class="mf" cx="857.0" cy="686" r="2.9"/>
<circle class="mo" cx="869.5" cy="686" r="2.9"/>
<circle class="mo" cx="873.2" cy="686" r="2.9"/>
<circle class="mo" cx="876.2" cy="686" r="2.9"/>
<circle class="mf" cx="885.0" cy="686" r="2.9"/>
<circle class="mf" cx="890.5" cy="686" r="2.9"/>
<circle class="mf" cx="893.0" cy="686" r="2.9"/>
<circle class="mo" cx="897.0" cy="686" r="2.9"/>
<circle class="mo" cx="900.5" cy="686" r="2.9"/>
<circle class="mf" cx="908.0" cy="686" r="2.9"/>
<circle class="mf" cx="911.2" cy="686" r="2.9"/>
<circle class="mo" cx="918.0" cy="686" r="2.9"/>
<circle class="mo" cx="919.5" cy="686" r="2.9"/>
<circle class="mo" cx="921.2" cy="686" r="2.9"/>
<circle class="mf" cx="927.0" cy="686" r="2.9"/>
<circle class="mo" cx="928.0" cy="686" r="2.9"/>
<circle class="mf" cx="930.0" cy="686" r="2.9"/>
<circle class="mo" cx="933.0" cy="686" r="2.9"/>
<circle class="mf" cx="934.5" cy="686" r="2.9"/>
<circle class="mo" cx="936.2" cy="686" r="2.9"/>
<circle class="mf" cx="937.5" cy="686" r="2.9"/>
<circle class="mo" cx="942.0" cy="686" r="2.9"/>
<circle class="mf" cx="952.5" cy="686" r="2.9"/>
<circle class="mo" cx="956.2" cy="686" r="2.9"/>
<circle class="mf" cx="958.8" cy="686" r="2.9"/>
<circle class="mo" cx="962.0" cy="686" r="2.9"/>
<circle class="mf" cx="966.2" cy="686" r="2.9"/>
<circle class="mo" cx="969.5" cy="686" r="2.9"/>
<circle class="mf" cx="971.2" cy="686" r="2.9"/>
<circle class="mo" cx="974.2" cy="686" r="2.9"/>
<circle class="mf" cx="977.0" cy="686" r="2.9"/>
<circle class="mo" cx="985.5" cy="686" r="2.9"/>
<circle class="mo" cx="991.2" cy="686" r="2.9"/>
<circle class="mo" cx="994.5" cy="686" r="2.9"/>
<circle class="mf" cx="1005.5" cy="686" r="2.9"/>
<circle class="mf" cx="1010.0" cy="686" r="2.9"/>
<circle class="mf" cx="1012.0" cy="686" r="2.9"/>
<circle class="mf" cx="1016.0" cy="686" r="2.9"/>
<circle class="mo" cx="1022.5" cy="686" r="2.9"/>
<circle class="mo" cx="1025.5" cy="686" r="2.9"/>
<circle class="mf" cx="1038.8" cy="686" r="2.9"/>
<circle class="mf" cx="1040.5" cy="686" r="2.9"/>
<circle class="mf" cx="1043.0" cy="686" r="2.9"/>
<circle class="mo" cx="1055.0" cy="686" r="2.9"/>
<circle class="mo" cx="1060.0" cy="686" r="2.9"/>
<circle class="mo" cx="1066.2" cy="686" r="2.9"/>
<circle class="mf" cx="1072.0" cy="686" r="2.9"/>
<circle class="mf" cx="1075.5" cy="686" r="2.9"/>
<circle class="mo" cx="1081.2" cy="686" r="2.9"/>
<circle class="mo" cx="1083.8" cy="686" r="2.9"/>
<circle class="mf" cx="1086.2" cy="686" r="2.9"/>
<circle class="mf" cx="1091.2" cy="686" r="2.9"/>
<circle class="mo" cx="1095.8" cy="686" r="2.9"/>
<circle class="mo" cx="1097.5" cy="686" r="2.9"/>
<circle class="mo" cx="1103.0" cy="686" r="2.9"/>
<circle class="mf" cx="1106.2" cy="686" r="2.9"/>
<circle class="mo" cx="1110.0" cy="686" r="2.9"/>
<circle class="mf" cx="1118.8" cy="686" r="2.9"/>
<circle class="mf" cx="1122.0" cy="686" r="2.9"/>
<circle class="mf" cx="1125.0" cy="686" r="2.9"/>
<circle class="mo" cx="1132.5" cy="686" r="2.9"/>
<circle class="mo" cx="1134.4" cy="686" r="2.9"/>
<circle class="mo" cx="1138.5" cy="686" r="2.9"/>
<circle class="mf" cx="1143.8" cy="686" r="2.9"/>
<circle class="mf" cx="1145.6" cy="686" r="2.9"/>
<circle class="mf" cx="1147.5" cy="686" r="2.9"/>
<circle class="mo" cx="1156.9" cy="686" r="2.9"/>
<circle class="mo" cx="1158.1" cy="686" r="2.9"/>
<circle class="mf" cx="1168.0" cy="686" r="2.9"/>
<circle class="mf" cx="1170.0" cy="686" r="2.9"/>
<circle class="mf" cx="1173.0" cy="686" r="2.9"/>
<circle class="mo" cx="1182.5" cy="686" r="2.9"/>
<circle class="mf" cx="1186.2" cy="686" r="2.9"/>
<circle class="mf" cx="1188.8" cy="686" r="2.9"/>
<circle class="mf" cx="1192.0" cy="686" r="2.9"/>
<circle class="mo" cx="1195.0" cy="686" r="2.9"/>
<circle class="mf" cx="1200.0" cy="686" r="2.9"/>
<circle class="mo" cx="1203.0" cy="686" r="2.9"/>
<circle class="mf" cx="1205.6" cy="686" r="2.9"/>
<text class="xl" transform="translate(142.7,714.0) rotate(-90)">G150</text>
<text class="xl" transform="translate(153.7,657.5) rotate(-90)">G135</text>
<text class="xl" transform="translate(159.7,714.0) rotate(-90)">G180</text>
<text class="xl" transform="translate(170.9,657.5) rotate(-90)">H2O2</text>
<text class="xl" transform="translate(180.3,714.0) rotate(-90)">Paraq</text>
<text class="xl" transform="translate(188.7,657.5) rotate(-90)">Oxctl</text>
<text class="xl" transform="translate(198.2,714.0) rotate(-90)">LBGexp</text>
<text class="xl" transform="translate(210.7,657.5) rotate(-90)">dia15</text>
<text class="xl" transform="translate(226.7,714.0) rotate(-90)">Diami</text>
<text class="xl" transform="translate(238.4,657.5) rotate(-90)">dia5</text>
<text class="xl" transform="translate(254.2,714.0) rotate(-90)">C90</text>
<text class="xl" transform="translate(267.8,657.5) rotate(-90)">C30</text>
<text class="xl" transform="translate(281.7,714.0) rotate(-90)">Cold</text>
<text class="xl" transform="translate(296.4,657.5) rotate(-90)">LPh</text>
<text class="xl" transform="translate(303.7,714.0) rotate(-90)">HPh</text>
<text class="xl" transform="translate(314.9,657.5) rotate(-90)">aero</text>
<text class="xl" transform="translate(331.7,714.0) rotate(-90)">nit</text>
<text class="xl" transform="translate(343.4,657.5) rotate(-90)">ferm</text>
<text class="xl" transform="translate(359.7,714.0) rotate(-90)">GM+150</text>
<text class="xl" transform="translate(365.9,657.5) rotate(-90)">M9−tran</text>
<text class="xl" transform="translate(374.1,714.0) rotate(-90)">MG+150</text>
<text class="xl" transform="translate(382.8,657.5) rotate(-90)">MG+120</text>
<text class="xl" transform="translate(539.7,657.5) rotate(-90)">M9−exp</text>
<text class="xl" transform="translate(548.2,714.0) rotate(-90)">M/G</text>
<text class="xl" transform="translate(562.2,657.5) rotate(-90)">Mal</text>
<text class="xl" transform="translate(574.1,714.0) rotate(-90)">Fru</text>
<text class="xl" transform="translate(580.3,657.5) rotate(-90)">Glu</text>
<text class="xl" transform="translate(590.2,714.0) rotate(-90)">SMM</text>
<text class="xl" transform="translate(597.2,657.5) rotate(-90)">BMM</text>
<text class="xl" transform="translate(609.2,714.0) rotate(-90)">Heat</text>
<text class="xl" transform="translate(624.7,657.5) rotate(-90)">Etha</text>
<text class="xl" transform="translate(639.7,714.0) rotate(-90)">Salt</text>
<text class="xl" transform="translate(654.0,657.5) rotate(-90)">Gly</text>
<text class="xl" transform="translate(667.7,714.0) rotate(-90)">HiTm</text>
<text class="xl" transform="translate(686.5,657.5) rotate(-90)">HiOs</text>
<text class="xl" transform="translate(701.0,714.0) rotate(-90)">S1</text>
<text class="xl" transform="translate(712.2,657.5) rotate(-90)">S2</text>
<text class="xl" transform="translate(730.2,714.0) rotate(-90)">S3</text>
<text class="xl" transform="translate(741.5,657.5) rotate(-90)">S4</text>
<text class="xl" transform="translate(752.2,714.0) rotate(-90)">S3</text>
<text class="xl" transform="translate(759.2,657.5) rotate(-90)">S5</text>
<text class="xl" transform="translate(770.5,714.0) rotate(-90)">S6</text>
<text class="xl" transform="translate(788.5,657.5) rotate(-90)">S7</text>
<text class="xl" transform="translate(797.2,714.0) rotate(-90)">S8</text>
<text class="xl" transform="translate(816.0,657.5) rotate(-90)">S6</text>
<text class="xl" transform="translate(836.7,714.0) rotate(-90)">BT</text>
<text class="xl" transform="translate(849.2,657.5) rotate(-90)">B36</text>
<text class="xl" transform="translate(858.5,714.0) rotate(-90)">B60</text>
<text class="xl" transform="translate(874.2,657.5) rotate(-90)">LoTm</text>
<text class="xl" transform="translate(889.7,714.0) rotate(-90)">Pyr</text>
<text class="xl" transform="translate(901.7,657.5) rotate(-90)">G/S</text>
<text class="xl" transform="translate(912.7,714.0) rotate(-90)">Glucon</text>
<text class="xl" transform="translate(922.7,657.5) rotate(-90)">SMMPr</text>
<text class="xl" transform="translate(931.7,714.0) rotate(-90)">T−5.40H</text>
<text class="xl" transform="translate(932.7,657.5) rotate(-90)">T−4.40H</text>
<text class="xl" transform="translate(934.7,714.0) rotate(-90)">T−3.40H</text>
<text class="xl" transform="translate(937.7,657.5) rotate(-90)">T−2.40H</text>
<text class="xl" transform="translate(939.2,714.0) rotate(-90)">T−1.40H</text>
<text class="xl" transform="translate(941.0,657.5) rotate(-90)">T−1.10H</text>
<text class="xl" transform="translate(942.2,714.0) rotate(-90)">T−0.40H</text>
<text class="xl" transform="translate(946.7,657.5) rotate(-90)">T0.0H</text>
<text class="xl" transform="translate(957.2,714.0) rotate(-90)">T0.30H</text>
<text class="xl" transform="translate(961.0,657.5) rotate(-90)">T1.0H</text>
<text class="xl" transform="translate(963.5,714.0) rotate(-90)">T1.30H</text>
<text class="xl" transform="translate(966.7,657.5) rotate(-90)">T2.0H</text>
<text class="xl" transform="translate(971.0,714.0) rotate(-90)">T2.30H</text>
<text class="xl" transform="translate(974.2,657.5) rotate(-90)">T3.0H</text>
<text class="xl" transform="translate(976.0,714.0) rotate(-90)">T3.30H</text>
<text class="xl" transform="translate(979.0,657.5) rotate(-90)">T4.0H</text>
<text class="xl" transform="translate(981.7,714.0) rotate(-90)">T5.0H</text>
<text class="xl" transform="translate(990.2,657.5) rotate(-90)">M9−stat</text>
<text class="xl" transform="translate(1010.2,714.0) rotate(-90)">BC</text>
<text class="xl" transform="translate(1027.2,657.5) rotate(-90)">Sw</text>
<text class="xl" transform="translate(1043.5,714.0) rotate(-90)">LPhT</text>
<text class="xl" transform="translate(1059.7,657.5) rotate(-90)">LBGstat</text>
<text class="xl" transform="translate(1076.7,714.0) rotate(-90)">LBGtran</text>
<text class="xl" transform="translate(1086.0,657.5) rotate(-90)">M0t45</text>
<text class="xl" transform="translate(1091.0,714.0) rotate(-90)">M40t45</text>
<text class="xl" transform="translate(1100.5,657.5) rotate(-90)">Lbtran</text>
<text class="xl" transform="translate(1111.0,714.0) rotate(-90)">Mt0</text>
<text class="xl" transform="translate(1114.7,657.5) rotate(-90)">M40t45</text>
<text class="xl" transform="translate(1123.5,714.0) rotate(-90)">M40t90</text>
<text class="xl" transform="translate(1137.2,657.5) rotate(-90)">M0t90</text>
<text class="xl" transform="translate(1148.5,714.0) rotate(-90)">Lbstat</text>
<text class="xl" transform="translate(1161.6,657.5) rotate(-90)">BI</text>
<text class="xl" transform="translate(1172.7,714.0) rotate(-90)">S0</text>
<text class="xl" transform="translate(1187.2,657.5) rotate(-90)">M0t45</text>
<text class="xl" transform="translate(1191.0,714.0) rotate(-90)">dia0</text>
<text class="xl" transform="translate(1199.7,657.5) rotate(-90)">Lbexp</text>
<text class="xl" transform="translate(1204.7,714.0) rotate(-90)">Mt0</text>
<text class="xl" transform="translate(1207.7,657.5) rotate(-90)">Lbexp</text>
<text class="xl" transform="translate(1210.3,714.0) rotate(-90)">Mt0</text>
<text class="xl" transform="translate(396.2,657.5) rotate(-90)">MG+60</text>
<text class="xl" transform="translate(400.7,657.5) rotate(-90)">MG+25</text>
<text class="xl" transform="translate(405.2,657.5) rotate(-90)">MG+10</text>
<text class="xl" transform="translate(409.7,657.5) rotate(-90)">MG+5</text>
<text class="xl" transform="translate(414.2,657.5) rotate(-90)">MG+t5</text>
<text class="xl" transform="translate(418.7,657.5) rotate(-90)">MG+15</text>
<text class="xl" transform="translate(423.2,657.5) rotate(-90)">MG+30</text>
<text class="xl" transform="translate(427.7,657.5) rotate(-90)">MG+45</text>
<text class="xl" transform="translate(432.2,657.5) rotate(-90)">MG+60</text>
<text class="xl" transform="translate(436.7,657.5) rotate(-90)">MG+25</text>
<text class="xl" transform="translate(391.7,714.0) rotate(-90)">MG+90</text>
<text class="xl" transform="translate(396.3,714.0) rotate(-90)">MG+45</text>
<text class="xl" transform="translate(400.9,714.0) rotate(-90)">MG+30</text>
<text class="xl" transform="translate(405.5,714.0) rotate(-90)">MG+15</text>
<text class="xl" transform="translate(410.1,714.0) rotate(-90)">MG+10</text>
<text class="xl" transform="translate(414.7,714.0) rotate(-90)">MG+5</text>
<text class="xl" transform="translate(419.3,714.0) rotate(-90)">MG+t5</text>
<text class="xl" transform="translate(423.9,714.0) rotate(-90)">MG+15</text>
<text class="xl" transform="translate(428.5,714.0) rotate(-90)">MG+25</text>
<text class="xl" transform="translate(433.1,714.0) rotate(-90)">MG+45</text>
<text class="xl" transform="translate(437.7,714.0) rotate(-90)">MG−0.1</text>
<text class="xl" transform="translate(444.3,657.5) rotate(-90)">MG−0.2</text>
<text class="xl" transform="translate(442.9,657.5) rotate(-90)">MG−0.1</text>
<text class="xl" transform="translate(454.2,657.5) rotate(-90)">Fru</text>
<text class="xl" transform="translate(466.4,657.5) rotate(-90)">GM−0.2</text>
<text class="xl" transform="translate(465.0,657.5) rotate(-90)">GM−0.1</text>
<text class="xl" transform="translate(441.2,714.0) rotate(-90)">MG−0.1</text>
<text class="xl" transform="translate(450.7,714.0) rotate(-90)">UNK1</text>
<text class="xl" transform="translate(460.7,714.0) rotate(-90)">Glucon</text>
<text class="xl" transform="translate(469.7,714.0) rotate(-90)">GM−0.1</text>
<text class="xl" transform="translate(477.7,657.5) rotate(-90)">GM+5</text>
<text class="xl" transform="translate(481.8,657.5) rotate(-90)">GM+10</text>
<text class="xl" transform="translate(485.9,657.5) rotate(-90)">GM+15</text>
<text class="xl" transform="translate(490.0,657.5) rotate(-90)">GM+25</text>
<text class="xl" transform="translate(494.1,657.5) rotate(-90)">GM+45</text>
<text class="xl" transform="translate(498.2,657.5) rotate(-90)">GM+60</text>
<text class="xl" transform="translate(502.3,657.5) rotate(-90)">GM+90</text>
<text class="xl" transform="translate(506.4,657.5) rotate(-90)">GM+120</text>
<text class="xl" transform="translate(510.5,657.5) rotate(-90)">GM+150</text>
<text class="xl" transform="translate(475.7,714.0) rotate(-90)">GM+5</text>
<text class="xl" transform="translate(479.8,714.0) rotate(-90)">GM+10</text>
<text class="xl" transform="translate(483.9,714.0) rotate(-90)">GM+15</text>
<text class="xl" transform="translate(488.0,714.0) rotate(-90)">GM+25</text>
<text class="xl" transform="translate(492.1,714.0) rotate(-90)">GM+45</text>
<text class="xl" transform="translate(496.2,714.0) rotate(-90)">GM+60</text>
<text class="xl" transform="translate(500.3,714.0) rotate(-90)">GM+90</text>
<text class="xl" transform="translate(508.7,714.0) rotate(-90)">GM+120</text>
<text class="xl" transform="translate(513.7,657.5) rotate(-90)">GM+150</text>
<text class="xl" transform="translate(519.7,657.5) rotate(-90)">GM+60</text>
<text class="xl" transform="translate(524.0,657.5) rotate(-90)">GM+90</text>
<text class="xl" transform="translate(528.3,657.5) rotate(-90)">GM+45</text>
<text class="xl" transform="translate(532.6,657.5) rotate(-90)">GM+25</text>
<text class="xl" transform="translate(516.7,714.0) rotate(-90)">GM+90</text>
<text class="xl" transform="translate(521.5,714.0) rotate(-90)">GM+25</text>
<text class="xl" transform="translate(526.3,714.0) rotate(-90)">GM+45</text>
<text class="xl" transform="translate(531.1,714.0) rotate(-90)">GM+5</text>
<text class="lg" x="887.5" y="66.8">clusters</text>
<text class="lg" x="967.5" y="101.8">A1169 size: 9</text>
<text class="lg" x="967.8" y="133.5">B31 size: 130</text>
<text class="lg" x="967.5" y="164.9">C6 size: 359</text>
<path class="gl" stroke-linecap="round" stroke-dasharray="0.01 13.3" d="M894.8 92.2 H940"/>
<path class="gl" stroke-linecap="round" stroke-dasharray="9.7 17" d="M895 124.2 H944"/>
<path class="gl" stroke-linecap="round" d="M895 156.2 H942.4"/>
</svg></body></html>
